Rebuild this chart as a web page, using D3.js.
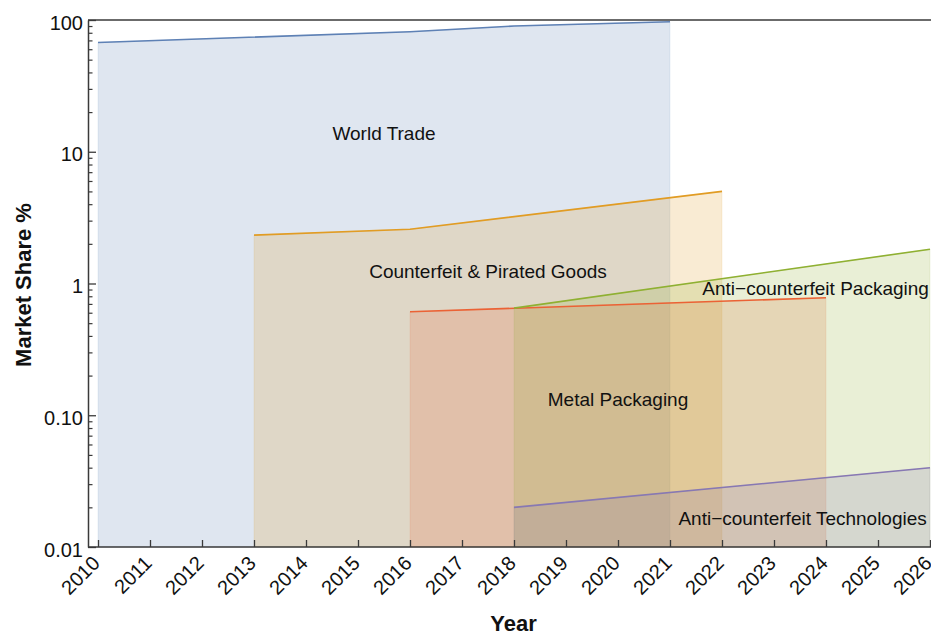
<!DOCTYPE html>
<html>
<head>
<meta charset="utf-8">
<script src="https://cdn.jsdelivr.net/npm/d3@7/dist/d3.min.js"></script>
<style>
  html, body { margin: 0; padding: 0; background: #fff; }
  svg { display: block; font-family: "Liberation Sans", Arial, sans-serif; }
</style>
</head>
<body>
<svg id="chart" width="931" height="635"></svg>
<script>
// ---- data ----
const yearTicks = [2010, 2011, 2012, 2013, 2014, 2015, 2016, 2017, 2018,
                   2019, 2020, 2021, 2022, 2023, 2024, 2025, 2026];
const yMajorTicks = [0.01, 0.1, 1, 10, 100];
const yMajorLabels = ["0.01", "0.10", "1", "10", "100"];

const seriesNames = ["World Trade", "Counterfeit & Pirated Goods", "Metal Packaging",
                     "Anti\u2212counterfeit Packaging", "Anti\u2212counterfeit Technologies"];

const worldTradeYears = [2010, 2016, 2018, 2021];
const worldTradeValues = [67.5, 81.5, 90, 97];

const counterfeitYears = [2013, 2016, 2022];
const counterfeitValues = [2.33, 2.58, 5.0];

const metalYears = [2016, 2024];
const metalValues = [0.61, 0.78];

const acPackagingYears = [2018, 2026];
const acPackagingValues = [0.65, 1.82];

const acTechYears = [2018, 2026];
const acTechValues = [0.02, 0.04];

const seriesColors = ["#5E81B5", "#E19C24", "#EB6235", "#8FB032", "#8778B3"];

const series = [
  { name: seriesNames[0], years: worldTradeYears, values: worldTradeValues, color: seriesColors[0] },
  { name: seriesNames[1], years: counterfeitYears, values: counterfeitValues, color: seriesColors[1] },
  { name: seriesNames[2], years: metalYears, values: metalValues, color: seriesColors[2] },
  { name: seriesNames[3], years: acPackagingYears, values: acPackagingValues, color: seriesColors[3] },
  { name: seriesNames[4], years: acTechYears, values: acTechValues, color: seriesColors[4] }
];

// label anchors in data units (year, value)
const labelAnchors = [
  [2015.5, 13.9],
  [2017.5, 1.24],
  [2020.0, 0.133],
  [2023.8, 0.925],
  [2023.55, 0.0166]
];

// ---- layout ----
const svg = d3.select("#chart");
const frameLeft = 88, frameTop = 20, frameBottom = 547, frameRight = 933;

const x = d3.scaleLinear().domain([2010, 2026]).range([98, 930]);
const y = d3.scaleLog().domain([0.01, 100]).range([frameBottom, frameTop]);

// ---- filled areas ----
const area = d3.area()
  .x(d => x(d[0]))
  .y0(frameBottom)
  .y1(d => y(d[1]));

const line = d3.line()
  .x(d => x(d[0]))
  .y(d => y(d[1]));

const pts = s => s.years.map((yr, i) => [yr, s.values[i]]);

const gFill = svg.append("g");
series.forEach(s => {
  gFill.append("path")
    .attr("d", area(pts(s)))
    .attr("fill", s.color)
    .attr("fill-opacity", 0.2)
    .attr("stroke", s.color)
    .attr("stroke-opacity", 0.12)
    .attr("stroke-width", 1);
});

const gLine = svg.append("g");
series.forEach(s => {
  gLine.append("path")
    .attr("d", line(pts(s)))
    .attr("fill", "none")
    .attr("stroke", s.color)
    .attr("stroke-width", 1.6);
});

// ---- series labels ----
const gLab = svg.append("g");
series.forEach((s, i) => {
  gLab.append("text")
    .attr("x", x(labelAnchors[i][0]))
    .attr("y", y(labelAnchors[i][1]))
    .attr("dy", "0.35em")
    .attr("text-anchor", "middle")
    .attr("font-size", 19)
    .attr("fill", "#111")
    .text(s.name);
});

// ---- frame ----
const axisColor = "#3a3a3a";
svg.append("line")
  .attr("x1", frameLeft).attr("x2", frameRight)
  .attr("y1", frameTop).attr("y2", frameTop)
  .attr("stroke", axisColor).attr("stroke-width", 1.5);

// ---- y axis ----
const yMinor = [];
for (let e = -2; e < 2; e++) {
  for (let m = 2; m <= 9; m++) yMinor.push(m * Math.pow(10, e));
}

const gY = svg.append("g").attr("transform", `translate(${frameLeft},0)`);
gY.call(d3.axisLeft(y)
  .tickValues(yMajorTicks)
  .tickFormat((d, i) => yMajorLabels[i])
  .tickSizeInner(-8)
  .tickSizeOuter(0)
  .tickPadding(5));
gY.select(".domain").attr("stroke", axisColor).attr("stroke-width", 1.5);
gY.selectAll(".tick line").attr("stroke", axisColor).attr("stroke-width", 1.3);
gY.selectAll(".tick text")
  .attr("font-size", 20)
  .attr("fill", "#111")
  .attr("font-family", "Liberation Sans, Arial, sans-serif")
  .attr("dy", "0.45em");

const gYm = svg.append("g").attr("transform", `translate(${frameLeft},0)`);
gYm.call(d3.axisLeft(y).tickValues(yMinor).tickFormat("").tickSizeInner(-4.5).tickSizeOuter(0));
gYm.select(".domain").remove();
gYm.selectAll(".tick line").attr("stroke", axisColor).attr("stroke-width", 1.2);

// ---- x axis ----
const gX = svg.append("g").attr("transform", `translate(0,${frameBottom})`);
gX.call(d3.axisBottom(x)
  .tickValues(yearTicks)
  .tickFormat(d3.format("d"))
  .tickSizeInner(-7)
  .tickSizeOuter(0));
gX.select(".domain").attr("d", `M${frameLeft},0H${frameRight}`)
  .attr("stroke", axisColor).attr("stroke-width", 1.5);
gX.selectAll(".tick line").attr("stroke", axisColor).attr("stroke-width", 1.3);
gX.selectAll(".tick text")
  .attr("font-size", 20)
  .attr("fill", "#111")
  .attr("font-family", "Liberation Sans, Arial, sans-serif")
  .attr("x", 0).attr("y", 0).attr("dy", 0)
  .attr("text-anchor", "end")
  .attr("transform", "translate(2.5,17.5) rotate(-45)");

// ---- axis titles ----
svg.append("text")
  .attr("x", 513.5).attr("y", 630.5)
  .attr("text-anchor", "middle")
  .attr("font-size", 22).attr("font-weight", "bold")
  .attr("fill", "#111")
  .text("Year");

svg.append("text")
  .attr("transform", "translate(30.5,285) rotate(-90)")
  .attr("text-anchor", "middle")
  .attr("font-size", 22).attr("font-weight", "bold")
  .attr("fill", "#111")
  .text("Market Share %");
</script>
</body>
</html>
